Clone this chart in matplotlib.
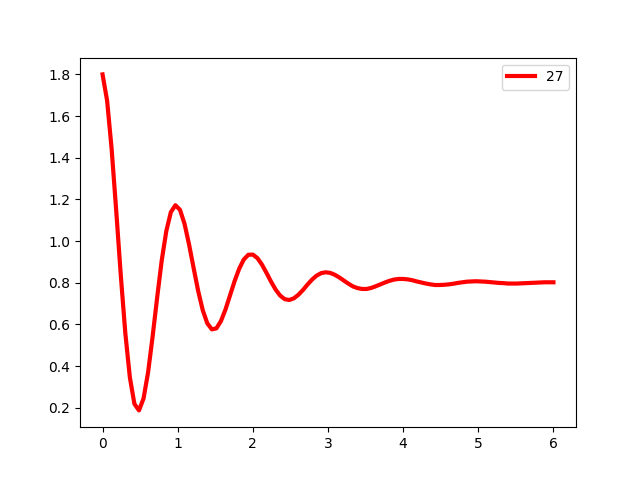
import numpy as np
import matplotlib
matplotlib.use('Agg')
import matplotlib.pyplot as plt

# sample times (100 evenly spaced samples from 0 to 6)
t = np.linspace(0, 6, 100)

# values
y = [1.800, 1.674, 1.441, 1.146, 0.837, 0.558, 0.345, 0.218, 0.187, 0.244,
     0.370, 0.543, 0.731, 0.908, 1.048, 1.139, 1.172, 1.150, 1.083, 0.983,
     0.870, 0.760, 0.668, 0.605, 0.576, 0.581, 0.616, 0.672, 0.740, 0.808,
     0.867, 0.911, 0.934, 0.935, 0.918, 0.887, 0.847, 0.805, 0.767, 0.738,
     0.721, 0.717, 0.725, 0.742, 0.765, 0.791, 0.815, 0.834, 0.846, 0.850,
     0.847, 0.838, 0.825, 0.810, 0.795, 0.782, 0.774, 0.770, 0.770, 0.775,
     0.783, 0.792, 0.801, 0.809, 0.815, 0.818, 0.818, 0.816, 0.812, 0.806,
     0.801, 0.796, 0.792, 0.789, 0.789, 0.790, 0.792, 0.795, 0.799, 0.802,
     0.805, 0.806, 0.807, 0.806, 0.805, 0.803, 0.801, 0.799, 0.798, 0.796,
     0.796, 0.796, 0.797, 0.798, 0.799, 0.800, 0.801, 0.802, 0.802, 0.802]

label = '27'

fig, ax = plt.subplots(figsize=(6.4, 4.8), dpi=100)
ax.plot(t, y, color='red', linewidth=3, label=label)
ax.legend(loc='upper right')

fig.savefig('out.png')
